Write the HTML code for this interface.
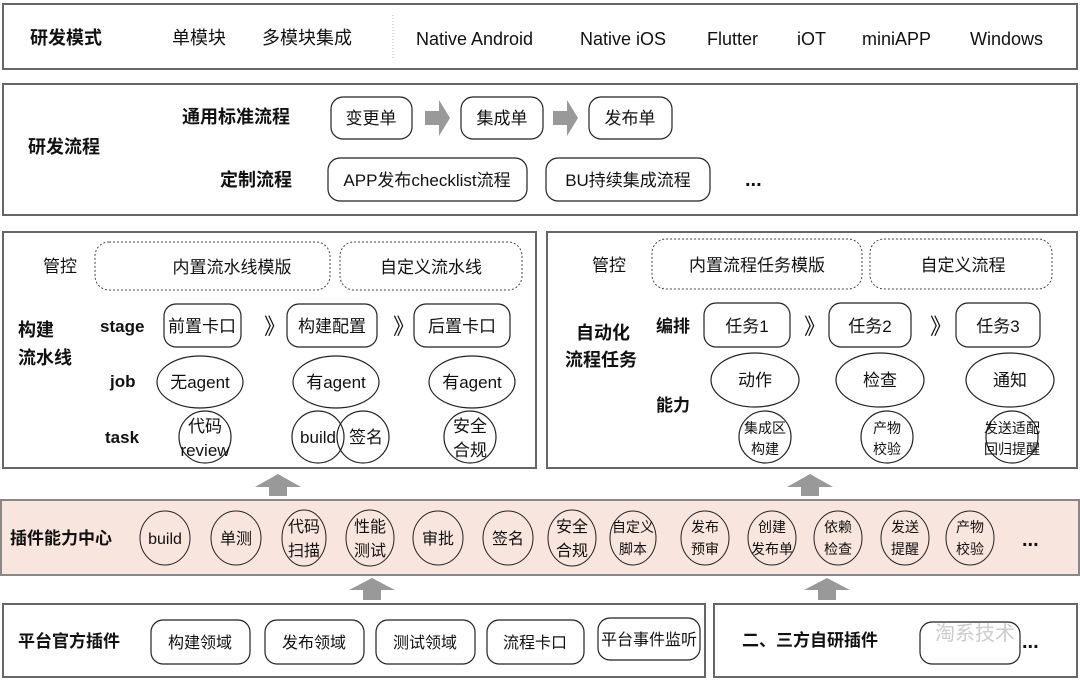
<!DOCTYPE html>
<html><head><meta charset="utf-8"><style>
html,body{margin:0;padding:0;background:#fff;}
svg{display:block;}
text{font-family:"Liberation Sans","Noto Sans CJK SC",sans-serif;fill:#111;}
.b{font-weight:bold;}
.c{text-anchor:middle;}
</style></head><body>
<svg width="1080" height="681" viewBox="0 0 1080 681" xmlns="http://www.w3.org/2000/svg">
<g fill="none" stroke="#666" stroke-width="2">
<rect x="3" y="4" width="1074" height="65"/>
<rect x="3" y="84" width="1074" height="131"/>
<rect x="3" y="232" width="533" height="236"/>
<rect x="547" y="232" width="530" height="236"/>
<rect x="3" y="604" width="702" height="73"/>
<rect x="714" y="604" width="363" height="73"/>
</g>
<rect x="1" y="500" width="1078" height="75" fill="#f8e5dd" stroke="#888" stroke-width="2"/>
<line x1="393" y1="15" x2="393" y2="58" stroke="#bbb" stroke-dasharray="1,2"/>
<g font-size="18">
<text class="b" x="30" y="44">研发模式</text>
<text x="172" y="44">单模块</text>
<text x="262" y="44">多模块集成</text>
<text x="416" y="45">Native Android</text>
<text x="580" y="45">Native iOS</text>
<text x="707" y="45">Flutter</text>
<text x="797" y="45">iOT</text>
<text x="862" y="45">miniAPP</text>
<text x="970" y="45">Windows</text>
<text class="b" x="28" y="153">研发流程</text>
<text class="b" x="182" y="123">通用标准流程</text>
<text class="b" x="220" y="186">定制流程</text>
</g>
<g fill="none" stroke="#222" stroke-width="1.2">
<rect x="331" y="97" width="81" height="42" rx="12"/>
<rect x="461" y="97" width="82" height="42" rx="12"/>
<rect x="589" y="97" width="83" height="42" rx="12"/>
<rect x="328" y="158" width="199" height="43" rx="12"/>
<rect x="546" y="158" width="164" height="43" rx="12"/>
</g>
<polygon points="425,111 439,111 439,100 450,118 439,136 439,125 425,125" fill="#999"/>
<polygon points="553,111 567,111 567,100 578,118 567,136 567,125 553,125" fill="#999"/>
<g font-size="17">
<text class="c" x="371" y="124">变更单</text>
<text class="c" x="502" y="124">集成单</text>
<text class="c" x="630" y="124">发布单</text>
<text class="c" x="427" y="186">APP发布checklist流程</text>
<text class="c" x="628" y="186">BU持续集成流程</text>
</g>
<text x="745" y="186" font-size="20" class="b">...</text>
<g fill="none" stroke="#444" stroke-width="1" stroke-dasharray="2,2">
<rect x="95" y="242" width="235" height="48" rx="14"/>
<rect x="340" y="242" width="182" height="48" rx="14"/>
<rect x="652" y="239" width="210" height="50" rx="14"/>
<rect x="870" y="239" width="182" height="50" rx="14"/>
</g>
<g font-size="17">
<text x="43" y="272">管控</text>
<text class="c" x="232" y="273">内置流水线模版</text>
<text class="c" x="431" y="273">自定义流水线</text>
<text class="b" x="18" y="336" font-size="18">构建</text>
<text class="b" x="18" y="364" font-size="18">流水线</text>
<text class="b" x="100" y="332">stage</text>
<text class="b" x="110" y="387">job</text>
<text class="b" x="105" y="443">task</text>
</g>
<g fill="none" stroke="#222" stroke-width="1.2">
<rect x="164" y="304" width="77" height="43" rx="12"/>
<rect x="287" y="304" width="90" height="43" rx="12"/>
<rect x="414" y="304" width="96" height="43" rx="12"/>
<ellipse cx="200" cy="382" rx="43" ry="26"/>
<ellipse cx="336" cy="382" rx="43" ry="26"/>
<ellipse cx="472" cy="382" rx="43" ry="26"/>
<circle cx="205" cy="437" r="26"/>
<circle cx="318" cy="437" r="26"/>
<circle cx="363" cy="437" r="26"/>
<circle cx="470" cy="437" r="26"/>
<rect x="704" y="303" width="86" height="44" rx="12"/>
<rect x="829" y="303" width="82" height="44" rx="12"/>
<rect x="956" y="303" width="84" height="44" rx="12"/>
<ellipse cx="755" cy="380" rx="44" ry="27"/>
<ellipse cx="880" cy="380" rx="44" ry="27"/>
<ellipse cx="1010" cy="380" rx="44" ry="27"/>
<circle cx="765" cy="437" r="26"/>
<circle cx="887" cy="437" r="26"/>
<circle cx="1012" cy="437" r="26"/>
</g>
<g font-size="17">
<text class="c" x="202" y="332">前置卡口</text>
<text x="264" y="334" font-size="22">》</text>
<text class="c" x="332" y="332">构建配置</text>
<text x="393" y="334" font-size="22">》</text>
<text class="c" x="462" y="332">后置卡口</text>
<text class="c" x="200" y="388">无agent</text>
<text class="c" x="336" y="388">有agent</text>
<text class="c" x="472" y="388">有agent</text>
<text class="c" x="205" y="432">代码</text>
<text class="c" x="205" y="456">review</text>
<text class="c" x="318" y="443">build</text>
<text class="c" x="366" y="443">签名</text>
<text class="c" x="470" y="432">安全</text>
<text class="c" x="470" y="456">合规</text>
<text x="592" y="271">管控</text>
<text class="c" x="757" y="271">内置流程任务模版</text>
<text class="c" x="963" y="271">自定义流程</text>
<text class="b" x="576" y="339" font-size="18">自动化</text>
<text class="b" x="565" y="366" font-size="18">流程任务</text>
<text class="b" x="656" y="332">编排</text>
<text class="b" x="656" y="411">能力</text>
<text class="c" x="747" y="332">任务1</text>
<text x="804" y="334" font-size="22">》</text>
<text class="c" x="870" y="332">任务2</text>
<text x="930" y="334" font-size="22">》</text>
<text class="c" x="998" y="332">任务3</text>
<text class="c" x="755" y="386">动作</text>
<text class="c" x="880" y="386">检查</text>
<text class="c" x="1010" y="386">通知</text>
</g>
<g font-size="14">
<text class="c" x="765" y="433">集成区</text>
<text class="c" x="765" y="454">构建</text>
<text class="c" x="887" y="433">产物</text>
<text class="c" x="887" y="454">校验</text>
<text class="c" x="1012" y="433">发送适配</text>
<text class="c" x="1012" y="454">回归提醒</text>
</g>
<g fill="#999">
<polygon points="255,487 278,474 301,487 287,487 287,496 269,496 269,487"/>
<polygon points="787,487 810,474 833,487 819,487 819,496 801,496 801,487"/>
<polygon points="349,590 372,578 395,590 381,590 381,600 363,600 363,590"/>
<polygon points="804,590 827,578 850,590 836,590 836,600 818,600 818,590"/>
</g>
<text class="b" x="10" y="544" font-size="17">插件能力中心</text>
<g fill="none" stroke="#222" stroke-width="1">
<ellipse cx="165" cy="538" rx="25" ry="27"/>
<ellipse cx="236" cy="538" rx="25" ry="27"/>
<ellipse cx="304" cy="538" rx="22" ry="28"/>
<ellipse cx="370" cy="538" rx="24" ry="28"/>
<ellipse cx="438" cy="538" rx="25" ry="27"/>
<ellipse cx="508" cy="538" rx="25" ry="27"/>
<ellipse cx="572" cy="538" rx="24" ry="28"/>
<ellipse cx="633" cy="538" rx="23" ry="27"/>
<ellipse cx="705" cy="538" rx="24" ry="27"/>
<ellipse cx="772" cy="538" rx="24" ry="27"/>
<ellipse cx="838" cy="538" rx="24" ry="27"/>
<ellipse cx="905" cy="538" rx="24" ry="27"/>
<ellipse cx="970" cy="538" rx="24" ry="27"/>
</g>
<g font-size="16">
<text class="c" x="165" y="544">build</text>
<text class="c" x="236" y="544">单测</text>
<text class="c" x="304" y="532">代码</text>
<text class="c" x="304" y="556">扫描</text>
<text class="c" x="370" y="532">性能</text>
<text class="c" x="370" y="556">测试</text>
<text class="c" x="438" y="544">审批</text>
<text class="c" x="508" y="544">签名</text>
<text class="c" x="572" y="532">安全</text>
<text class="c" x="572" y="556">合规</text>
</g>
<g font-size="14">
<text class="c" x="633" y="532">自定义</text>
<text class="c" x="633" y="554">脚本</text>
<text class="c" x="705" y="532">发布</text>
<text class="c" x="705" y="554">预审</text>
<text class="c" x="772" y="532">创建</text>
<text class="c" x="772" y="554">发布单</text>
<text class="c" x="838" y="532">依赖</text>
<text class="c" x="838" y="554">检查</text>
<text class="c" x="905" y="532">发送</text>
<text class="c" x="905" y="554">提醒</text>
<text class="c" x="970" y="532">产物</text>
<text class="c" x="970" y="554">校验</text>
</g>
<text x="1022" y="546" font-size="20" class="b">...</text>
<text class="b" x="18" y="647" font-size="17">平台官方插件</text>
<g fill="none" stroke="#222" stroke-width="1.2">
<rect x="151" y="620" width="99" height="44" rx="12"/>
<rect x="265" y="620" width="99" height="44" rx="12"/>
<rect x="376" y="620" width="99" height="44" rx="12"/>
<rect x="487" y="620" width="97" height="44" rx="12"/>
<rect x="598" y="618" width="102" height="42" rx="12"/>
<rect x="920" y="622" width="100" height="42" rx="12"/>
</g>
<g font-size="16">
<text class="c" x="200" y="648">构建领域</text>
<text class="c" x="314" y="648">发布领域</text>
<text class="c" x="425" y="648">测试领域</text>
<text class="c" x="535" y="648">流程卡口</text>
<text class="c" x="649" y="645">平台事件监听</text>
</g>
<text class="b" x="742" y="646" font-size="17">二、三方自研插件</text>
<text x="935" y="640" font-size="20" style="fill:#ccc">淘系技术</text>
<text x="1022" y="648" font-size="20" class="b">...</text>
</svg>
</body></html>
